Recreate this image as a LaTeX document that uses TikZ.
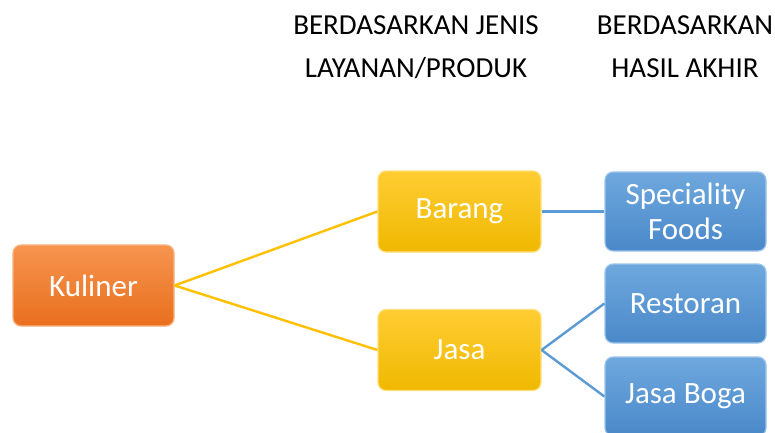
\documentclass[tikz,border=0pt]{standalone}
\usepackage{fontspec}
\setmainfont{Carlito}
\usetikzlibrary{positioning}
\definecolor{orgT}{HTML}{F6944E}
\definecolor{orgB}{HTML}{E96F1E}
\definecolor{orgD}{HTML}{F9B27E}
\definecolor{yelT}{HTML}{FFCD33}
\definecolor{yelB}{HTML}{F0B800}
\definecolor{yelD}{HTML}{FFE07A}
\definecolor{bluT}{HTML}{6EA8DE}
\definecolor{bluB}{HTML}{4A88C9}
\definecolor{bluD}{HTML}{9CC5EC}
\definecolor{lineY}{HTML}{FFC000}
\definecolor{lineB}{HTML}{5B9BD5}
\tikzset{
  boxbase/.style={rectangle, rounded corners=8pt, inner sep=0pt, text=white,
    font=\fontsize{31}{35}\selectfont, align=center, line width=1.2pt},
  orgbox/.style={boxbase, top color=orgT, bottom color=orgB, draw=orgD,
    minimum width=161pt, minimum height=81pt},
  yelbox/.style={boxbase, top color=yelT, bottom color=yelB, draw=yelD,
    minimum width=163pt, minimum height=81pt},
  blubox/.style={boxbase, top color=bluT, bottom color=bluB, draw=bluD,
    minimum width=161pt, minimum height=79pt},
  header/.style={align=center, font=\fontsize{29}{43}\selectfont, text=black, inner sep=0pt},
  ylink/.style={draw=lineY, line width=2.4pt},
  blink/.style={draw=lineB, line width=2.4pt}
}
\begin{document}
\begin{tikzpicture}[x=1pt,y=-1pt]
\useasboundingbox (0,0) rectangle (775,432);
\clip (0,0) rectangle (775,432);
\fill[white] (0,0) rectangle (775,432);
\node[header] (h1) at (416,47) {BERDASARKAN JENIS\\LAYANAN/PRODUK};
\node[header] (h2) at (685,47) {BERDASARKAN\\HASIL AKHIR};
\node[orgbox] (kul) at (93.5,285.5) {Kuliner};
\node[yelbox] (bar) at (459.5,211.5) {Barang};
\node[yelbox] (jas) at (459.5,350) {Jasa};
\node[blubox] (spe) at (685.5,211.5) {Speciality\\Foods};
\node[blubox] (res) at (685.5,303.5) {Restoran};
\node[blubox] (bog) at (685.5,396.5) {Jasa Boga};
\draw[ylink] (kul.east) -- (bar.west);
\draw[ylink] (kul.east) -- (jas.west);
\draw[blink] (bar.east) -- (spe.west);
\draw[blink] (jas.east) -- (res.west);
\draw[blink] (jas.east) -- (bog.west);
\end{tikzpicture}
\end{document}
